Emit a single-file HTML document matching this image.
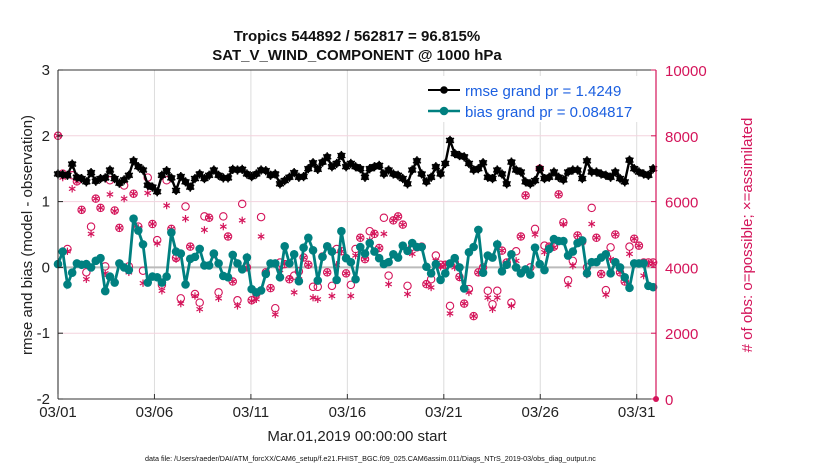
<!DOCTYPE html>
<html><head><meta charset="utf-8"><style>
body{margin:0;background:#fff;}
svg{display:block;font-family:"Liberation Sans",sans-serif;}
</style></head><body>
<svg id="chart" width="830" height="470" viewBox="0 0 830 470" xmlns="http://www.w3.org/2000/svg">
<rect width="830" height="470" fill="#fff"/>
<g id="grid"></g><g id="marks"></g><g id="axes"></g>
</svg>
<script>
const rmse=[1.42,1.41,1.40,1.57,1.37,1.35,1.30,1.44,1.31,1.35,1.36,1.48,1.35,1.28,1.33,1.40,1.62,1.53,1.48,1.25,1.22,1.15,1.40,1.47,1.36,1.17,1.38,1.30,1.22,1.35,1.42,1.35,1.40,1.48,1.40,1.36,1.36,1.49,1.48,1.49,1.42,1.38,1.42,1.48,1.47,1.40,1.42,1.27,1.32,1.37,1.44,1.37,1.38,1.50,1.59,1.49,1.60,1.68,1.53,1.58,1.70,1.53,1.58,
1.53,1.50,1.37,1.50,1.53,1.55,1.42,1.48,1.42,1.40,1.35,1.27,1.48,1.62,1.42,1.30,1.37,1.53,1.42,1.58,1.93,1.73,1.70,1.68,1.58,1.48,1.50,1.59,1.37,1.35,1.48,1.42,1.27,1.60,1.48,1.45,1.30,1.27,1.32,1.50,1.35,1.37,1.45,1.37,1.33,1.45,1.48,1.48,1.35,1.62,1.45,1.45,1.42,1.40,1.37,1.45,1.35,1.30,1.63,1.50,1.45,1.42,1.40,1.50];
const bias=[.05,.24,-.26,-.08,.06,.04,.05,0,.10,.14,-.36,-.14,-.23,.06,0,-.04,.74,.56,.35,-.23,-.14,-.15,-.23,-.14,.53,.24,.21,-.26,.13,.16,.28,.03,.03,.21,.06,-.13,-.15,.19,.06,-.03,.15,-.33,-.38,-.35,-.10,.06,.06,-.15,.32,.06,.20,-.21,.30,.45,.26,-.20,.16,.32,.24,-.19,.55,.14,.08,
-.18,.31,.21,.37,.24,.14,.05,.08,.20,.15,.33,.25,.37,.31,.31,.01,-.09,.05,-.19,-.09,.06,.14,0,-.32,.23,.31,.57,-.08,.18,.15,.35,-.06,.04,.20,0,-.09,-.03,-.11,.30,.05,-.04,.28,.43,.40,.40,.18,.24,.37,.41,-.09,.08,.08,.15,.20,-.09,.08,0,-.15,-.31,.06,.06,.06,-.28,-.30];
const obsPossible=[8000,6850,4560,6800,6615,5750,3850,5240,6090,5810,4030,6650,5730,5200,6490,4030,6240,5240,3900,6730,5320,4830,3470,6650,5170,4285,3060,5850,4630,3190,2930,5550,5510,4410,3240,5550,4940,3570,3000,5930,4000,3000,3200,5530,3850,3370,2760,4150,4100,3640,3750,3880,4300,4080,3410,3410,4330,3850,3440,4560,4490,3820,3470,
4560,4900,4250,5100,5020,4590,5510,3750,5430,5550,5300,3440,4630,4610,4630,3490,3640,4360,4080,4080,2830,4150,3710,2900,3340,2520,3850,4000,3290,2880,3290,4510,4150,2930,4490,4940,6190,4000,5170,7000,4660,4630,4630,6220,5370,3610,4200,4970,4790,4000,5810,4900,3800,3310,4610,5000,3850,3570,4630,4870,4660,4150,4150,4150];
const obsAssim=[8000,6730,4490,6390,6600,5750,3640,5020,6090,5810,3820,6220,5710,5200,6090,3850,6240,5200,3520,6260,5320,4730,3290,5880,5170,4250,2900,5480,4630,3130,2730,5140,5510,4390,3060,5240,4940,3570,2830,5430,4000,2980,3030,4940,3850,3370,2570,3920,4100,3640,3240,3640,4300,4080,3080,3030,4330,3850,3130,4080,4490,3820,3130,
4360,4900,4250,4830,5020,4590,5020,3490,5430,5550,5300,3190,4410,4610,4630,3490,3390,4200,4020,4080,2600,4000,3690,2900,3240,2520,3850,4000,3080,2730,3080,4510,4150,2830,4200,4940,6190,3800,5000,7000,4460,4610,4610,6220,5320,3470,4050,4970,4760,3780,5320,4900,3800,3170,4250,5000,3850,3570,4410,4870,4660,3750,4120,4120];
const obsEnd=0;
const xTickLabels=["03/01","03/06","03/11","03/16","03/21","03/26","03/31"];
const xTickDays=[0,5,10,15,20,25,30];
const yLeftTicks=[-2,-1,0,1,2,3];
const yRightTicks=[0,2000,4000,6000,8000,10000];

const NS="http://www.w3.org/2000/svg";
const L=58,R=656,T=70,B=399,CR="#d4145a",TEAL="#008080";
const xS=d=>L+(R-L)*d/31;
const yL=v=>B-(B-T)*(v+2)/5;
const yR=v=>B-(B-T)*v/10000;
const lastDay=30.85;
const dayOf=(i,n)=>i*lastDay/(n-1);
function el(tag,attrs,parent,text){const e=document.createElementNS(NS,tag);for(const k in attrs)e.setAttribute(k,attrs[k]);if(text!==undefined)e.textContent=text;parent.appendChild(e);return e;}
const grid=document.getElementById('grid'),marks=document.getElementById('marks'),axes=document.getElementById('axes');
el('rect',{x:L,y:T,width:R-L,height:B-T,fill:'#fff'},grid);
xTickDays.forEach((d,i)=>{const l=el('line',{x1:xS(d),x2:xS(d),y1:T,y2:B,stroke:'#dcdcdc','stroke-width':1},grid);

});
yRightTicks.forEach(v=>{const l=el('line',{x1:L,x2:R,y1:yR(v),y2:yR(v),stroke:'#f3d3de','stroke-width':1},grid);

});
const zl=el('line',{x1:L,x2:R,y1:yL(0),y2:yL(0),stroke:'#bbb','stroke-width':2},grid);



function star(g,x,y,s,col,w){for(let k=0;k<3;k++){const a=k*Math.PI/3+Math.PI/2;el('line',{x1:x-s*Math.cos(a),y1:y-s*Math.sin(a),x2:x+s*Math.cos(a),y2:y+s*Math.sin(a),stroke:col,'stroke-width':w},g);}}
const og=el('g',{},marks);


obsPossible.forEach((v,i)=>{el('circle',{cx:xS(dayOf(i,obsPossible.length)),cy:yR(v),r:3.7,fill:'none',stroke:CR,'stroke-width':1.1},og);});
obsAssim.forEach((v,i)=>{star(og,xS(dayOf(i,obsAssim.length)),yR(v),3.7,CR,1.2);});
el('circle',{cx:xS(31),cy:yR(obsEnd),r:3,fill:CR},og);
const rg=el('g',{},marks);


el('polyline',{points:rmse.map((v,i)=>xS(dayOf(i,rmse.length))+','+yL(v)).join(' '),fill:'none',stroke:'#000','stroke-width':2.4},rg);
rmse.forEach((v,i)=>{const x=xS(dayOf(i,rmse.length)),y=yL(v);el('circle',{cx:x,cy:y,r:3.6,fill:'#000'},rg);star(rg,x,y,4.6,'#000',1.5);});
const bg=el('g',{},marks);


el('polyline',{points:bias.map((v,i)=>xS(dayOf(i,bias.length))+','+yL(v)).join(' '),fill:'none',stroke:TEAL,'stroke-width':2.8},bg);
bias.forEach((v,i)=>{el('circle',{cx:xS(dayOf(i,bias.length)),cy:yL(v),r:4.3,fill:TEAL},bg);});
el('line',{x1:L,x2:R,y1:T,y2:T,stroke:'#333','stroke-width':1},axes);
el('line',{x1:L,x2:R,y1:B,y2:B,stroke:'#333','stroke-width':1},axes);
el('line',{x1:L,x2:L,y1:T,y2:B,stroke:'#222','stroke-width':1},axes);
el('line',{x1:R,x2:R,y1:T,y2:B,stroke:CR,'stroke-width':1.2},axes);
xTickDays.forEach((d,i)=>{el('line',{x1:xS(d),x2:xS(d),y1:B,y2:B-5,stroke:'#333'},axes);
const t=el('text',{x:xS(d),y:B+18,'text-anchor':'middle','font-size':15,fill:'#222'},axes,xTickLabels[i]);

});
yLeftTicks.forEach(v=>{el('line',{x1:L,x2:L+5,y1:yL(v),y2:yL(v),stroke:'#222'},axes);
const t=el('text',{x:L-8,y:yL(v)+5,'text-anchor':'end','font-size':15,fill:'#222'},axes,String(v));

});
yRightTicks.forEach(v=>{el('line',{x1:R,x2:R-5,y1:yR(v),y2:yR(v),stroke:CR},axes);
const t=el('text',{x:R+9,y:yR(v)+6,'text-anchor':'start','font-size':15,fill:CR},axes,String(v));

});
</script>
<svg style="position:absolute;left:0;top:0" width="830" height="470">
<text x="357" y="41" text-anchor="middle" font-family="Liberation Sans,sans-serif" font-weight="bold" font-size="15" fill="#111">Tropics 544892 / 562817 = 96.815%</text>
<text x="357" y="60" text-anchor="middle" font-family="Liberation Sans,sans-serif" font-weight="bold" font-size="15" fill="#111">SAT_V_WIND_COMPONENT @ 1000 hPa</text>
<text transform="translate(32,235) rotate(-90)" text-anchor="middle" font-family="Liberation Sans,sans-serif" font-size="15" fill="#222">rmse and bias (model - observation)</text>
<text transform="translate(752,235) rotate(-90)" text-anchor="middle" font-family="Liberation Sans,sans-serif" font-size="15" fill="#d4145a"># of obs: o=possible; ×=assimilated</text>
<text x="357" y="441" text-anchor="middle" font-family="Liberation Sans,sans-serif" font-size="15" fill="#222">Mar.01,2019 00:00:00 start</text>
<text x="145" y="461" font-family="Liberation Sans,sans-serif" font-size="7.2" fill="#111">data file: /Users/raeder/DAI/ATM_forcXX/CAM6_setup/f.e21.FHIST_BGC.f09_025.CAM6assim.011/Diags_NTrS_2019-03/obs_diag_output.nc</text>
<g>
<rect x="422" y="76" width="230" height="46" fill="#fff"/>
<line x1="428" y1="90" x2="460" y2="90" stroke="#000" stroke-width="2"/>
<circle cx="444" cy="90" r="3.8" fill="#000"/>
<text x="465" y="96" font-family="Liberation Sans,sans-serif" font-size="15" fill="#1b5fe0">rmse grand pr = 1.4249</text>
<line x1="428" y1="111" x2="460" y2="111" stroke="#008080" stroke-width="2.5"/>
<circle cx="444" cy="111" r="4.3" fill="#008080"/>
<text x="465" y="117" font-family="Liberation Sans,sans-serif" font-size="15" fill="#1b5fe0">bias grand pr = 0.084817</text>
</g>
</svg>
</body></html>
